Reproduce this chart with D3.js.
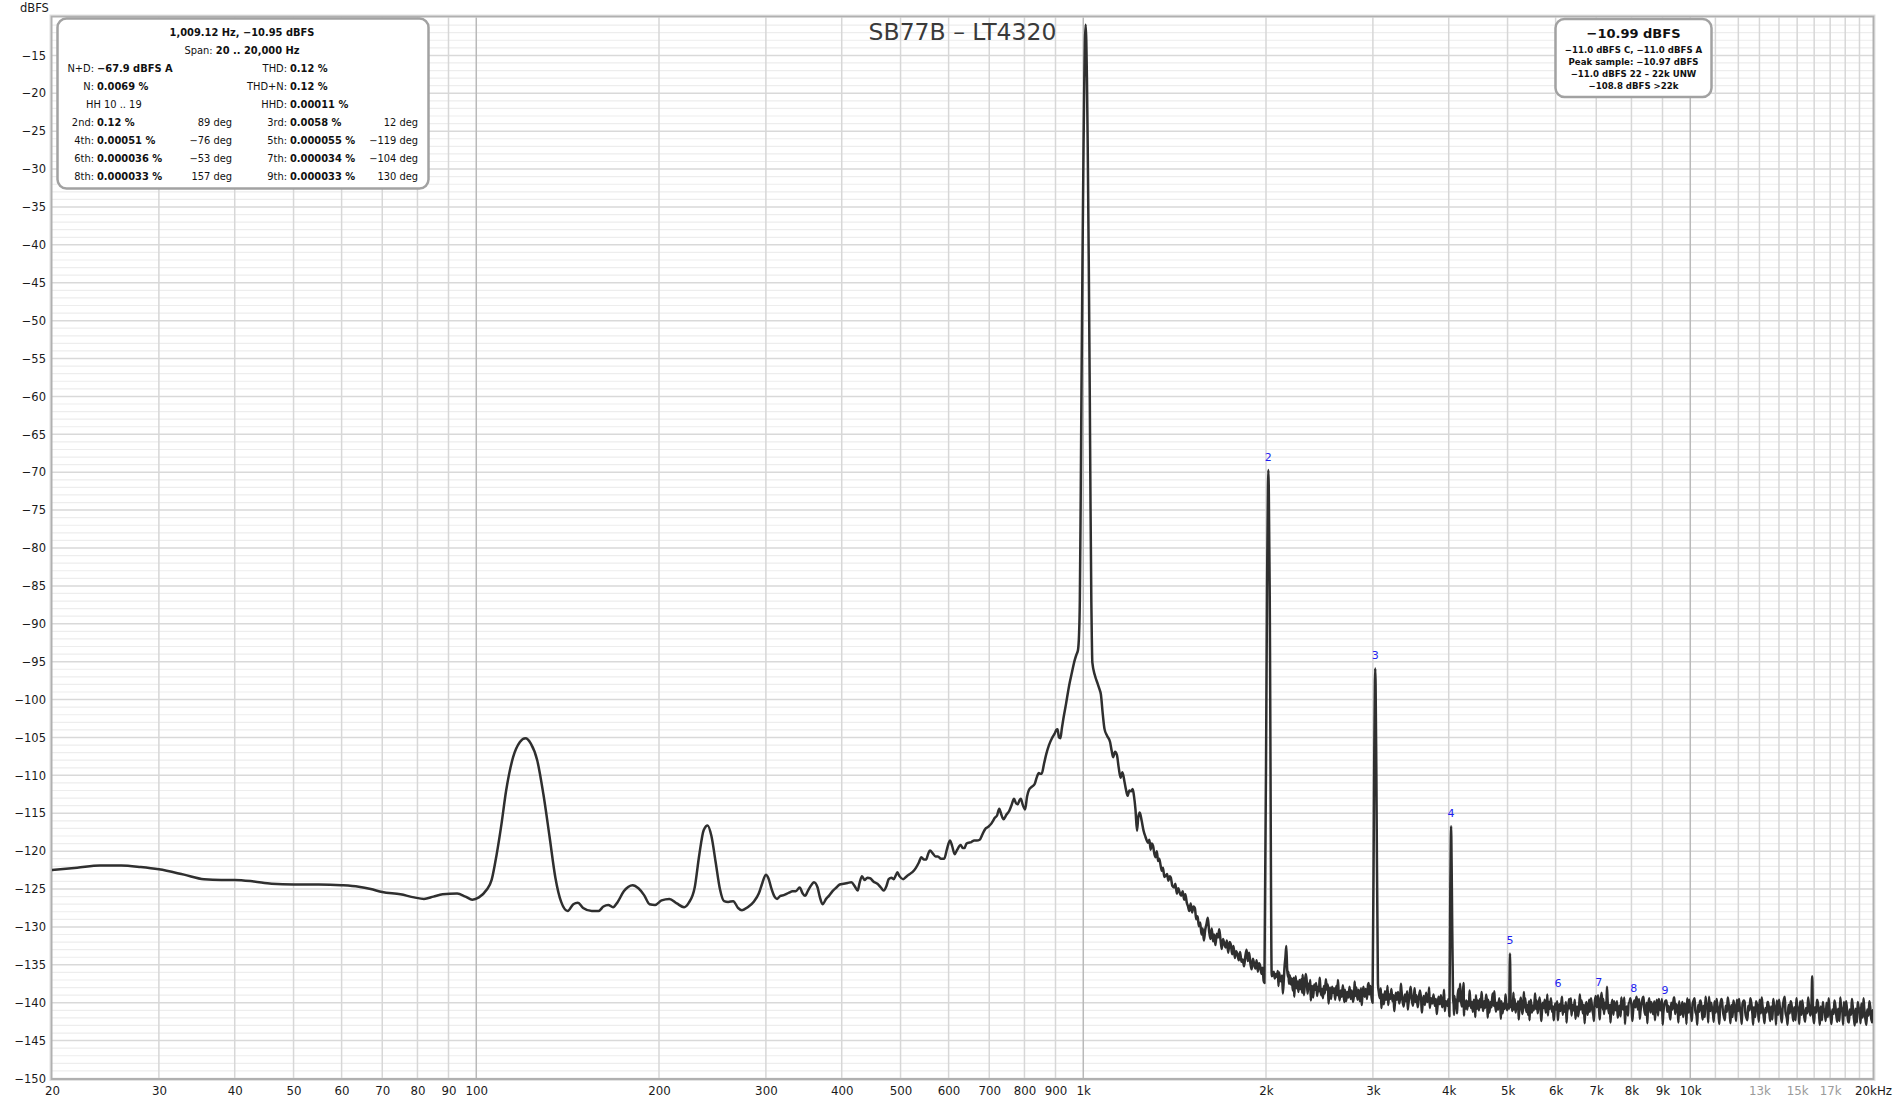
<!DOCTYPE html>
<html><head><meta charset="utf-8">
<script src="https://cdn.jsdelivr.net/npm/d3@7"></script>
<style>
body{margin:0;background:#fff;}
svg{display:block;}
text{font-family:"DejaVu Sans",sans-serif;}
</style>
</head><body>
<svg id="chart" width="1900" height="1103"></svg>
<script>
// ---------------- DATA ----------------
const chartTitle = "SB77B – LT4320";
const yAxisUnit = "dBFS";
const yTicks = [-15,-20,-25,-30,-35,-40,-45,-50,-55,-60,-65,-70,-75,-80,-85,-90,-95,-100,-105,-110,-115,-120,-125,-130,-135,-140,-145,-150];
const xTickValues = [20,30,40,50,60,70,80,90,100,200,300,400,500,600,700,800,900,1000,2000,3000,4000,5000,6000,7000,8000,9000,10000,13000,15000,17000,20000];
const xTickLabels = ["20","30","40","50","60","70","80","90","100","200","300","400","500","600","700","800","900","1k","2k","3k","4k","5k","6k","7k","8k","9k","10k","13k","15k","17k","20kHz"];
const xTickMuted = [13000,15000,17000];
const xGridMinor = [30,40,50,60,70,80,90,200,300,400,500,600,700,800,900,2000,3000,4000,5000,6000,7000,8000,9000,11000,12000,13000,14000,15000,16000,17000,18000,19000];
const xGridDecade = [100,1000,10000];

const spectrumLow = [[20,-122.5],[22,-122.2],[24,-121.9],[26,-121.9],[28,-122.1],[30,-122.4],[33,-123.1],[35.6,-123.7],[38,-123.8],[40,-123.8],[43,-124.0],[46,-124.3],[50,-124.4],[55,-124.4],[60,-124.5],[64,-124.7],[67,-125.0],[70,-125.4],[75,-125.7],[79,-126.1],[82,-126.3],[85,-126.0],[88,-125.7],[93,-125.6],[96,-126.0],[98.5,-126.4],[101,-126.1],[104,-125.1],[106,-123.8],[108,-120.5],[110,-116.5],[112,-112.0],[115,-107.6],[118,-105.6],[120.5,-105.1],[123,-105.8],[126,-108.0],[129,-112.5],[132,-118.0],[135,-123.5],[138,-126.7],[141.5,-127.9],[144.5,-127.0],[147,-126.8],[150,-127.5],[155,-127.9],[159,-127.9],[162,-127.3],[165,-127.1],[168,-127.4],[171,-126.7],[175,-125.3],[181,-124.5],[185,-124.9],[189,-125.8],[193,-127.0],[197,-127.1],[202,-126.5],[208,-126.3],[214,-126.9],[220,-127.4],[224,-126.8],[229,-124.8],[233,-120.5],[237,-117.2],[240.5,-116.6],[244,-118.0],[248,-121.5],[252,-125.0],[256,-126.6],[260,-126.7],[265,-126.6],[270,-127.5],[274,-127.8],[280,-127.4],[287,-126.6],[292,-125.6],[296,-124.2],[300,-123.1],[303,-123.6],[306,-124.8],[310,-126.0],[313,-126.3],[317,-125.9],[321,-125.8],[327,-125.5],[332,-125.3],[336,-125.3],[341,-124.8],[345,-125.6],[348,-125.9],[352,-125.2],[357,-124.4],[360,-124.1],[365,-124.8],[368,-126.0],[372,-127.0],[377,-126.3],[381,-125.9],[386,-125.3],[392,-124.8],[397,-124.4],[403,-124.3],[409,-124.2],[415,-124.1],[420,-124.6],[425,-125.2],[428,-124.2],[432,-123.3],[436,-123.8],[441,-123.5],[446,-123.6],[451,-124.0],[458,-124.3],[464,-124.8],[469,-125.2],[474,-124.6],[478,-123.7],[483,-123.5],[487,-123.7],[491,-123.2],[494,-122.8],[498,-123.3],[505,-123.7],[512,-123.3],[518,-123.0],[524,-122.7],[530,-122.2],[536,-121.5],[541,-120.8],[546,-121.1],[551,-121.1],[555,-120.4],[559,-119.9],[565,-120.3],[571,-120.7],[576,-120.7],[583,-121.0],[590,-121.0],[596,-119.8],[603,-118.6],[608,-119.3],[614,-120.4],[620,-119.8],[628,-119.2],[633,-119.6],[637,-119.6],[642,-119.0],[646,-118.9],[654,-118.8],[661,-118.6],[668,-118.6],[675,-118.5],[682,-117.8],[689,-117.1],[697,-116.8],[705,-116.4],[710,-116.0],[715,-115.6],[721,-115.3],[727,-114.4],[733,-115.2],[739,-115.8],[747,-115.2],[755,-114.7],[762,-113.9],[769,-113.1],[775,-113.7],[780,-113.8],[785,-113.3],[789,-113.1],[795,-113.9],[802,-114.5],[808,-112.8],[814,-111.9],[823,-111.5],[832,-111.1],[838,-110.3],[845,-109.7],[850,-109.8],[854,-109.8],[862,-108.4],[869,-107.2],[878,-106.0],[888,-105.1],[897,-104.5],[903,-104.0],[907,-103.9],[912,-105.0],[917,-105.1],[922,-103.8],[927,-102.6],[937,-100.5],[948,-98.1],[958,-96.4],[968,-94.8],[975,-94.0],[980,-93.5]];

const spectrumFundamental = [[984,-91.5],[987,-87],[990,-75],[993,-60],[997,-42],[1001,-27],[1004,-18],[1006.5,-13],[1009.1,-10.95],[1011.5,-13],[1014,-18],[1017,-27],[1021,-42],[1025,-60],[1028,-75],[1031,-87],[1033,-92],[1035,-95.1]];

const spectrumSkirt = [[1045,-96.8],[1056,-97.9],[1063,-98.6],[1069,-99.3],[1077,-102.0],[1084,-103.9],[1095,-104.8],[1107,-105.6],[1114,-106.8],[1120,-107.6],[1128,-106.9],[1136,-107.3],[1144,-109.0],[1152,-110.3],[1160,-109.6],[1169,-110.8],[1176,-111.9],[1183,-112.7],[1191,-112.0],[1200,-112.1],[1206,-111.8],[1212,-112.7],[1219,-114.5],[1226,-117.3],[1232,-115.5],[1239,-114.9],[1248,-116.0],[1257,-117.3],[1266,-118.1],[1279,-118.9],[1285,-118.5],[1291,-119.8],[1297,-119.0],[1303,-119.3],[1310,-120.4],[1316,-120.8],[1322,-120.0],[1328,-121.3],[1334,-121.0],[1341,-121.9],[1347,-122.6],[1353,-122.2],[1360,-123.4],[1366,-123.3],[1374,-123.0],[1381,-123.9],[1388,-123.3],[1394,-123.5],[1402,-124.6],[1411,-124.8],[1418,-124.3],[1426,-125.6],[1434,-124.9],[1442,-125.5],[1450,-125.9],[1458,-125.3],[1466,-126.4],[1473,-125.7],[1481,-126.8],[1488,-127.3],[1495,-127.9],[1503,-126.9],[1511,-128.1],[1519,-127.3],[1527,-127.5],[1535,-129.0],[1543,-128.6],[1550,-129.9],[1558,-129.4],[1566,-131.0],[1573,-130.2],[1580,-131.8],[1588,-130.4],[1596,-129.6],[1604,-128.8],[1612,-130.6],[1620,-131.6],[1628,-130.2],[1636,-131.9],[1643,-131.0],[1651,-132.4],[1659,-130.9],[1667,-131.4],[1675,-130.3],[1683,-131.7],[1691,-132.9],[1699,-131.6],[1707,-132.2],[1716,-132.7],[1724,-131.8],[1733,-133.4],[1742,-132.0],[1750,-132.3],[1759,-133.6],[1768,-132.5],[1777,-134.1],[1786,-133.2],[1795,-133.6],[1804,-134.4],[1813,-133.3],[1822,-134.6],[1831,-134.3],[1840,-135.2],[1849,-133.9],[1858,-133.0],[1867,-134.5],[1876,-133.4],[1885,-134.8],[1894,-135.6],[1903,-134.2],[1912,-134.9],[1921,-135.5],[1930,-134.4],[1939,-135.9],[1948,-134.8],[1957,-135.2],[1966,-136.2],[1975,-135.4],[1982,-137.1],[1988,-137.4]];

const harmonicSpikes = [[2008,-85],[2015,-72],[2018,-69.7],[2021,-72],[2028,-85],[2044,-136.5],
  [3014,-110],[3023,-98],[3027,-95.9],[3031,-98],[3040,-110],[3058,-137.5],
  [4024,-125],[4032,-118.5],[4036,-116.7],[4040,-118.5],[4048,-125],[4066,-139.4],
  [5041,-135.5],[5046,-133.5],[5051,-135.5],[5062,-140.6]];

const noiseFloor = [[2052,-136.3],[2060,-135.9],[2068,-136.8],[2076,-136.2],[2084,-136.6],[2092,-135.8],[2102,-136.0],[2110,-136.9],[2119,-137.2],[2126,-136.4],[2132,-138.8],[2140,-136.9],[2146,-135.2],[2153,-134.0],[2160,-132.5],[2167,-135.5],[2174,-136.6],[2182,-137.5],[2190,-136.4],[2198,-137.6],[2206,-136.8],[2214,-138.4],[2222,-136.7],[2230,-137.9],[2238,-136.5],[2246,-138.1],[2254,-137.2],[2262,-138.6],[2270,-137.0],[2278,-138.2],[2286,-136.9],[2294,-138.7],[2302,-137.6],[2310,-139.0],[2318,-137.3],[2326,-136.2],[2334,-137.1],[2342,-138.8],[2350,-137.5],[2358,-138.2],[2366,-137.0],[2374,-138.9],[2383,-137.8],[2392,-139.3],[2401,-137.6],[2410,-138.3],[2419,-137.4],[2428,-139.1],[2437,-137.9],[2446,-138.5],[2455,-137.3],[2464,-139.0],[2473,-138.2],[2482,-139.4],[2491,-137.8],[2500,-138.8],[2510,-136.9],[2520,-138.3],[2530,-137.6],[2540,-139.2],[2550,-138.0],[2560,-139.5],[2570,-137.9],[2580,-138.7],[2590,-138.1],[2600,-139.6],[2611,-137.8],[2622,-139.0],[2633,-138.2],[2644,-139.7],[2655,-138.4],[2666,-139.2],[2677,-137.7],[2688,-139.4],[2699,-138.3],[2710,-139.8],[2722,-138.6],[2734,-139.3],[2746,-137.9],[2758,-139.5],[2770,-138.4],[2782,-139.9],[2794,-138.7],[2806,-139.1],[2818,-138.0],[2830,-139.6],[2842,-138.3],[2855,-139.8],[2868,-138.1],[2881,-139.4],[2894,-137.9],[2907,-139.2],[2920,-138.2],[2933,-139.5],[2946,-137.6],[2959,-138.9],[2972,-137.8],[2985,-139.3],[2996,-140.0],
[3068,-138.6],[3080,-139.4],[3092,-138.1],[3104,-139.7],[3116,-138.9],[3128,-140.2],[3140,-138.5],[3153,-139.6],[3166,-138.8],[3179,-140.3],[3192,-138.9],[3205,-139.5],[3218,-138.2],[3231,-139.8],[3245,-139.0],[3259,-140.4],[3273,-138.7],[3287,-139.6],[3301,-138.6],[3315,-140.1],[3329,-139.2],[3343,-138.3],[3357,-139.7],[3372,-140.5],[3387,-138.9],[3402,-139.8],[3417,-138.5],[3432,-140.2],[3447,-139.1],[3462,-137.9],[3477,-139.6],[3492,-140.4],[3508,-138.8],[3524,-139.9],[3540,-139.0],[3556,-140.6],[3572,-139.3],[3588,-138.4],[3604,-139.8],[3620,-140.5],[3637,-139.1],[3654,-140.3],[3671,-138.7],[3688,-139.9],[3705,-139.2],[3722,-140.7],[3740,-139.4],[3758,-140.1],[3776,-138.9],[3794,-140.4],[3812,-139.5],[3830,-140.8],[3848,-139.2],[3866,-140.2],[3884,-139.0],[3902,-140.6],[3921,-139.6],[3940,-141.1],[3959,-139.8],[3978,-140.4],[3996,-139.5],[4010,-141.8],
[4076,-140.3],[4088,-139.1],[4100,-140.6],[4112,-139.6],[4124,-140.9],[4136,-139.4],[4150,-138.2],[4162,-139.8],[4176,-137.5],[4190,-139.6],[4204,-140.5],[4218,-139.3],[4232,-137.4],[4246,-139.9],[4260,-140.8],[4275,-139.7],[4290,-140.9],[4305,-139.8],[4320,-140.4],[4336,-139.2],[4352,-140.7],[4368,-139.9],[4384,-141.2],[4400,-139.6],[4417,-140.3],[4434,-139.0],[4451,-140.8],[4468,-139.7],[4485,-141.0],[4502,-139.5],[4520,-140.6],[4538,-139.3],[4556,-141.1],[4574,-139.8],[4592,-140.7],[4610,-138.9],[4629,-140.2],[4648,-139.6],[4667,-141.3],[4686,-139.9],[4705,-140.6],[4724,-138.8],[4744,-140.4],[4764,-139.7],[4784,-141.2],[4804,-140.0],[4824,-140.9],[4844,-139.4],[4865,-140.7],[4886,-139.8],[4907,-141.4],[4928,-140.1],[4949,-140.8],[4970,-139.6],[4991,-141.0],[5012,-140.2],[5030,-140.8],
[5074,-139.7],[5090,-141.1],[5106,-140.0],[5122,-140.9],[5138,-139.5],[5155,-141.3],[5172,-140.2],[5189,-140.7],[5206,-139.8],[5223,-141.4],[5240,-140.1],[5258,-139.3],[5276,-140.8],[5294,-141.5],[5312,-139.9],[5330,-140.6],[5348,-139.4],[5367,-141.2],[5386,-140.3],[5405,-141.6],[5424,-139.8],[5443,-140.7],[5463,-139.6],[5483,-141.3],[5503,-140.4],[5523,-141.0],[5543,-139.5],[5564,-140.8],[5585,-139.7],[5606,-141.4],[5627,-140.2],[5648,-139.3],[5670,-140.9],[5692,-141.6],[5714,-140.0],[5736,-140.7],[5758,-139.6],[5780,-141.3],[5803,-140.4],[5826,-141.7],[5849,-139.9],[5872,-140.8],[5895,-139.4],[5918,-141.2],[5942,-140.5],[5966,-141.8],[5990,-140.1],[6014,-140.9],[6038,-139.8],[6062,-141.5],[6087,-140.2],[6112,-141.1],[6137,-139.7],[6162,-141.6],[6188,-140.4],[6214,-141.2],[6240,-139.9],[6266,-141.4],[6292,-140.6],[6318,-139.5],[6345,-140.9],[6372,-141.7],[6399,-140.3],[6426,-141.0],[6454,-139.6],[6482,-141.3],[6510,-140.5],[6538,-141.8],[6566,-140.0],[6595,-140.9],[6624,-139.7],[6653,-141.4],[6682,-140.3],[6712,-141.1],[6742,-139.9],[6772,-141.6],[6802,-140.4],[6832,-141.2],[6862,-139.4],[6893,-140.8],[6924,-141.7],[6955,-140.2],[6986,-139.1],[7017,-140.6],[7048,-139.0],[7080,-141.3],[7112,-140.1],[7144,-138.7],[7176,-140.9],[7208,-141.5],[7240,-140.0],[7273,-140.8],[7306,-139.5],[7339,-141.4],[7372,-140.3],[7405,-141.1],[7439,-139.6],[7473,-141.6],[7507,-140.2],[7541,-141.0],[7575,-139.8],[7610,-141.5],[7645,-140.4],[7680,-141.8],[7715,-140.1],[7751,-140.9],[7787,-139.3],[7823,-141.2],[7859,-140.5],[7896,-141.7],[7933,-140.0],[7970,-139.4],[8007,-140.8],[8045,-141.4],[8083,-139.7],[8121,-140.6],[8159,-139.2],[8198,-140.9],[8237,-139.5],[8276,-141.2],[8315,-140.1],[8355,-139.3],[8395,-140.7],[8435,-141.6],[8475,-140.0],[8516,-140.8],[8557,-139.4],[8598,-141.3],[8640,-140.2],[8682,-141.5],[8724,-139.8],[8766,-140.9],[8809,-139.6],[8852,-141.7],[8895,-140.3],[8939,-141.0],[8983,-139.5],[9027,-141.4],[9072,-140.1],[9117,-139.7],[9162,-141.2],[9208,-140.4],[9254,-141.8],[9300,-140.0],[9347,-140.9],[9394,-139.3],[9441,-141.5],[9489,-140.2],[9537,-141.1],[9585,-139.8],[9634,-141.6],[9683,-140.5],[9732,-141.9],[9782,-140.1],[9832,-140.8],[9882,-139.4],[9933,-141.3],[9984,-140.6],[10035,-141.7],[10087,-140.2],[10139,-139.6],[10191,-141.0],[10244,-141.8],[10297,-140.3],[10350,-141.2],[10404,-139.7],[10458,-141.5],[10512,-140.4],[10567,-141.9],[10622,-140.0],[10678,-140.8],[10734,-139.2],[10790,-141.1],[10847,-140.5],[10904,-141.6],[10961,-139.8],[11019,-141.3],[11077,-140.2],[11136,-141.7],[11195,-140.6],[11254,-139.5],[11314,-141.0],[11374,-142.0],[11434,-140.4],[11495,-141.2],[11556,-139.9],[11618,-141.6],[11680,-140.3],[11742,-141.9],[11805,-140.1],[11868,-141.4],[11932,-139.6],[11996,-141.1],[12060,-140.5],[12125,-141.8],[12190,-140.2],[12256,-139.7],[12322,-141.3],[12389,-142.1],[12456,-140.4],[12523,-141.0],[12591,-139.8],[12659,-141.5],[12728,-140.6],[12797,-141.9],[12866,-140.1],[12936,-141.2],[13006,-139.6],[13077,-141.4],[13148,-140.3],[13220,-142.0],[13292,-140.7],[13364,-141.3],[13437,-139.9],[13510,-141.7],[13584,-140.5],[13658,-142.2],[13733,-140.2],[13808,-141.1],[13884,-139.7],[13960,-141.6],[14037,-140.4],[14114,-141.9],[14192,-140.8],[14270,-139.5],[14349,-141.2],[14428,-142.1],[14508,-140.3],[14588,-141.4],[14669,-140.0],[14750,-141.8],[14832,-140.6],[14914,-142.3],[14997,-140.4],[15080,-141.2],[15164,-139.8],[15248,-141.6],[15333,-140.5],[15418,-142.0],[15504,-140.7],[15590,-141.4],[15677,-140.1],[15764,-141.7],[15830,-140.8],[15880,-136.5],[15920,-140.9],[15960,-142.2],[16040,-140.6],[16128,-141.3],[16217,-139.9],[16306,-141.8],[16396,-140.5],[16487,-142.3],[16578,-140.7],[16670,-141.4],[16762,-140.0],[16855,-141.9],[16948,-140.6],[17042,-142.1],[17136,-140.9],[17231,-141.5],[17326,-140.2],[17422,-142.0],[17518,-140.8],[17615,-142.4],[17712,-140.5],[17810,-141.3],[17908,-139.9],[18007,-141.7],[18107,-140.6],[18207,-142.5],[18308,-140.9],[18409,-141.6],[18511,-140.3],[18613,-142.2],[18716,-140.8],[18819,-142.6],[18923,-140.5],[19028,-141.4],[19133,-140.1],[19239,-142.0],[19345,-140.7],[19452,-142.4],[19560,-140.9],[19668,-141.7],[19777,-140.4],[19886,-142.3],[20000,-141.0]];

// extra bins of the noise floor (peaks and troughs between the bins above)
const noiseFloorDetail = [[2097,-137.8],[2178,-135.9],[2226,-139.2],[2298,-136.3],[2370,-139.7],[2451,-136.7],[2535,-140.1],[2627,-137.0],[2694,-139.9],[2800,-137.2],[2875,-140.3],[2953,-137.4],
[3098,-140.7],[3172,-137.8],[3252,-141.1],[3336,-137.5],[3424,-140.9],[3516,-138.1],[3612,-141.3],[3714,-138.0],[3821,-141.5],[3930,-138.3],
[4082,-141.6],[4130,-141.4],[4239,-141.7],[4328,-138.4],[4425,-141.9],[4529,-138.6],[4638,-142.0],[4754,-138.5],[4876,-142.1],[4960,-138.9],
[5114,-138.7],[5215,-142.2],[5321,-138.6],[5434,-142.3],[5553,-138.8],[5681,-142.4],[5815,-138.9],[5954,-142.3],
[6050,-142.3],[6150,-139.2],[6253,-142.6],[6358,-139.4],[6468,-142.1],[6580,-138.9],[6697,-142.7],[6817,-139.6],[6940,-142.4],
[7096,-142.2],[7192,-139.5],[7290,-137.9],[7388,-142.6],[7490,-139.8],[7592,-142.0],[7698,-139.3],[7805,-142.8],[7915,-140.0],
[8026,-142.4],[8140,-139.6],[8256,-142.1],[8375,-139.2],[8496,-142.7],[8620,-139.9],[8745,-142.3],[8874,-139.5],[9005,-142.9],
[9140,-139.7],[9277,-142.2],[9418,-139.3],[9561,-142.6],[9708,-139.9],[9857,-142.8],[9958,-139.6],
[10061,-142.4],[10165,-139.4],[10270,-142.9],[10377,-139.8],[10485,-142.2],[10595,-139.2],[10706,-142.6],[10819,-140.0],[10933,-142.5],[11048,-139.5],[11166,-142.8],[11284,-139.9],[11404,-142.3],[11526,-139.3],[11649,-142.7],[11774,-139.7],[11900,-142.4],
[12028,-139.5],[12158,-142.8],[12289,-139.9],[12422,-142.3],[12557,-139.4],[12694,-142.9],[12832,-139.8],[12971,-142.5],[13112,-139.3],[13256,-142.7],[13400,-139.9],[13547,-142.4],[13696,-139.5],[13846,-142.9],
[14000,-139.6],[14153,-142.6],[14310,-139.2],[14468,-142.9],[14628,-139.8],[14791,-142.4],[14956,-139.4],[15122,-142.8],[15290,-139.7],[15461,-142.5],[15634,-139.3],[16000,-142.7],[16172,-139.6],[16351,-142.9],[16532,-139.9],[16716,-142.4],[16902,-139.4],
[17089,-142.8],[17278,-139.7],[17470,-142.5],[17664,-139.3],[17859,-142.9],[18057,-139.8],[18258,-142.6],[18460,-139.5],[18664,-143.0],[18871,-139.9],[19080,-142.7],[19292,-139.4],[19506,-142.9],[19722,-139.8],[19943,-142.6]];

const harmonicFreqs = [2018,3027,4036,5046,6055,7064,8073,9082];
const harmonicPeakDb = [-69.7,-95.9,-116.7,-133.5,-139.1,-139.0,-139.8,-140.1];
const harmonicNames = ["2","3","4","5","6","7","8","9"];

const infoHeader = [
  [{t:"1,009.12 Hz, −10.95 dBFS",b:true}],
  [{t:"Span: ",b:false},{t:"20 .. 20,000 Hz",b:true}]
];
// rows: [leftLabel, leftValue, leftPhase, rightLabel, rightValue, rightPhase]
const infoRows = [
  ["N+D:","−67.9 dBFS A","","THD:","0.12 %",""],
  ["N:","0.0069 %","","THD+N:","0.12 %",""],
  ["HH 10 .. 19","","","HHD:","0.00011 %",""],
  ["2nd:","0.12 %","89 deg","3rd:","0.0058 %","12 deg"],
  ["4th:","0.00051 %","−76 deg","5th:","0.000055 %","−119 deg"],
  ["6th:","0.000036 %","−53 deg","7th:","0.000034 %","−104 deg"],
  ["8th:","0.000033 %","157 deg","9th:","0.000033 %","130 deg"]
];
const levelHeadline = "−10.99 dBFS";
const levelLines = ["−11.0 dBFS C, −11.0 dBFS A","Peak sample: −10.97 dBFS","−11.0 dBFS 22 – 22k UNW","−108.8 dBFS >22k"];

// ---------------- DRAW ----------------
const svg = d3.select("#chart");
const m = {left:52, right:1873, top:17.5, bottom:1078.5};
const x = d3.scaleLog().domain([20,20000]).range([m.left,m.right]);
const y = d3.scaleLinear().domain([-10,-150]).range([m.top,m.bottom]);

svg.append("rect").attr("width",1900).attr("height",1103).attr("fill","#fff");

// grid
const grid = svg.append("g");
const oneDb = y.ticks(140).filter(d => d % 5 !== 0);
grid.selectAll(".hmin").data(oneDb).join("line")
  .attr("x1",m.left).attr("x2",m.right).attr("y1",d=>y(d)).attr("y2",d=>y(d))
  .attr("stroke","#ededed").attr("stroke-width",1.2);
grid.selectAll(".hmaj").data(yTicks).join("line")
  .attr("x1",m.left).attr("x2",m.right).attr("y1",d=>y(d)).attr("y2",d=>y(d))
  .attr("stroke","#d9d9d9").attr("stroke-width",1.5);
grid.selectAll(".vmin").data(xGridMinor).join("line")
  .attr("x1",d=>x(d)).attr("x2",d=>x(d)).attr("y1",m.top).attr("y2",m.bottom)
  .attr("stroke","#d7d7d7").attr("stroke-width",1.5);
grid.selectAll(".vdec").data(xGridDecade).join("line")
  .attr("x1",d=>x(d)).attr("x2",d=>x(d)).attr("y1",m.top).attr("y2",m.bottom)
  .attr("stroke","#b9b9b9").attr("stroke-width",1.5);

// frame
svg.append("rect").attr("x",m.left-2).attr("y",m.top-2.5).attr("width",m.right-m.left+4).attr("height",m.bottom-m.top+4.5)
  .attr("fill","none").attr("stroke","#e2e2e2").attr("stroke-width",1);
svg.append("rect").attr("x",m.left-0.5).attr("y",m.top-1).attr("width",m.right-m.left+1).attr("height",m.bottom-m.top+1.5)
  .attr("fill","none").attr("stroke","#b0b0b0").attr("stroke-width",2);

// axes
const yAxis = svg.append("g").attr("transform",`translate(${m.left},0)`)
  .call(d3.axisLeft(y).tickValues(yTicks).tickSize(0).tickPadding(6).tickFormat(d3.format("d")));
yAxis.select(".domain").remove();
yAxis.selectAll("text").attr("font-family","DejaVu Sans").attr("font-size",11.5).attr("fill","#1a1a1a");

const xAxis = svg.append("g").attr("transform",`translate(0,${m.bottom})`)
  .call(d3.axisBottom(x).tickValues(xTickValues).tickSize(0).tickPadding(8.5).tickFormat((d,i)=>xTickLabels[i]));
xAxis.select(".domain").remove();
xAxis.selectAll("text").attr("font-family","DejaVu Sans").attr("font-size",11.8)
  .attr("fill",d => xTickMuted.includes(d) ? "#9a9a9a" : "#1a1a1a");

svg.append("text").attr("x",20).attr("y",11.5).attr("font-size",11.5).attr("fill","#1a1a1a").text(yAxisUnit);

// title
svg.append("text").attr("x",(m.left+m.right)/2).attr("y",40).attr("text-anchor","middle")
  .attr("font-size",23.5).attr("fill","#3a3a3a").text(chartTitle);

// spectrum
svg.append("clipPath").attr("id","plotclip").append("rect")
  .attr("x",m.left).attr("y",m.top).attr("width",m.right-m.left).attr("height",m.bottom-m.top);
const spectrum = [...spectrumLow,...spectrumFundamental,...spectrumSkirt,...harmonicSpikes,...noiseFloor,...noiseFloorDetail]
  .sort((a,b)=>a[0]-b[0]);
const line = d3.line().x(d=>x(d[0])).y(d=>y(d[1])).curve(d3.curveMonotoneX);
svg.append("path").datum(spectrum).attr("clip-path","url(#plotclip)")
  .attr("d",line).attr("fill","none").attr("stroke","#2f2f2f").attr("stroke-width",2.5)
  .attr("stroke-linejoin","round").attr("stroke-linecap","round");

// harmonic labels
svg.append("g").selectAll("text").data(harmonicFreqs).join("text")
  .attr("x",d=>x(d)).attr("y",(d,i)=>y(harmonicPeakDb[i])-9)
  .attr("text-anchor","middle").attr("font-size",11).attr("fill","#1e1ef0")
  .text((d,i)=>harmonicNames[i]);

// info box (left)
const ib = svg.append("g");
ib.append("rect").attr("x",57.5).attr("y",18.5).attr("width",371).attr("height",170).attr("rx",9)
  .attr("fill","#fff").attr("stroke","#a2a2a2").attr("stroke-width",2.5);
const fs = 9.9;
infoHeader.forEach((parts,i)=>{
  const t = ib.append("text").attr("x",242).attr("y",36+i*17.6).attr("text-anchor","middle").attr("font-size",fs).attr("fill","#111");
  parts.forEach(p=>t.append("tspan").attr("font-weight",p.b?"bold":"normal").text(p.t));
});
infoRows.forEach((r,i)=>{
  const yy = 72 + i*18;
  if (r[1]==="") {
    ib.append("text").attr("x",86).attr("y",yy).attr("font-size",fs).attr("fill","#111").text(r[0]);
  } else {
    ib.append("text").attr("x",94).attr("y",yy).attr("text-anchor","end").attr("font-size",fs).attr("fill","#111").text(r[0]);
    ib.append("text").attr("x",97).attr("y",yy).attr("font-size",fs).attr("font-weight","bold").attr("fill","#111").text(r[1]);
  }
  if (r[2]) ib.append("text").attr("x",232).attr("y",yy).attr("text-anchor","end").attr("font-size",fs).attr("fill","#111").text(r[2]);
  ib.append("text").attr("x",287).attr("y",yy).attr("text-anchor","end").attr("font-size",fs).attr("fill","#111").text(r[3]);
  ib.append("text").attr("x",290).attr("y",yy).attr("font-size",fs).attr("font-weight","bold").attr("fill","#111").text(r[4]);
  if (r[5]) ib.append("text").attr("x",418).attr("y",yy).attr("text-anchor","end").attr("font-size",fs).attr("fill","#111").text(r[5]);
});

// level box (right)
const lb = svg.append("g");
lb.append("rect").attr("x",1555.5).attr("y",19).attr("width",156).attr("height",78).attr("rx",9)
  .attr("fill","#fff").attr("stroke","#a2a2a2").attr("stroke-width",2.5);
lb.append("text").attr("x",1633.5).attr("y",37.5).attr("text-anchor","middle").attr("font-size",13)
  .attr("font-weight","bold").attr("fill","#111").text(levelHeadline);
lb.selectAll(".ll").data(levelLines).join("text")
  .attr("x",1633.5).attr("y",(d,i)=>53+i*12).attr("text-anchor","middle")
  .attr("font-family","DejaVu Sans Condensed").attr("font-size",8.6).attr("font-weight","bold").attr("fill","#111")
  .text(d=>d);
</script>
</body></html>
